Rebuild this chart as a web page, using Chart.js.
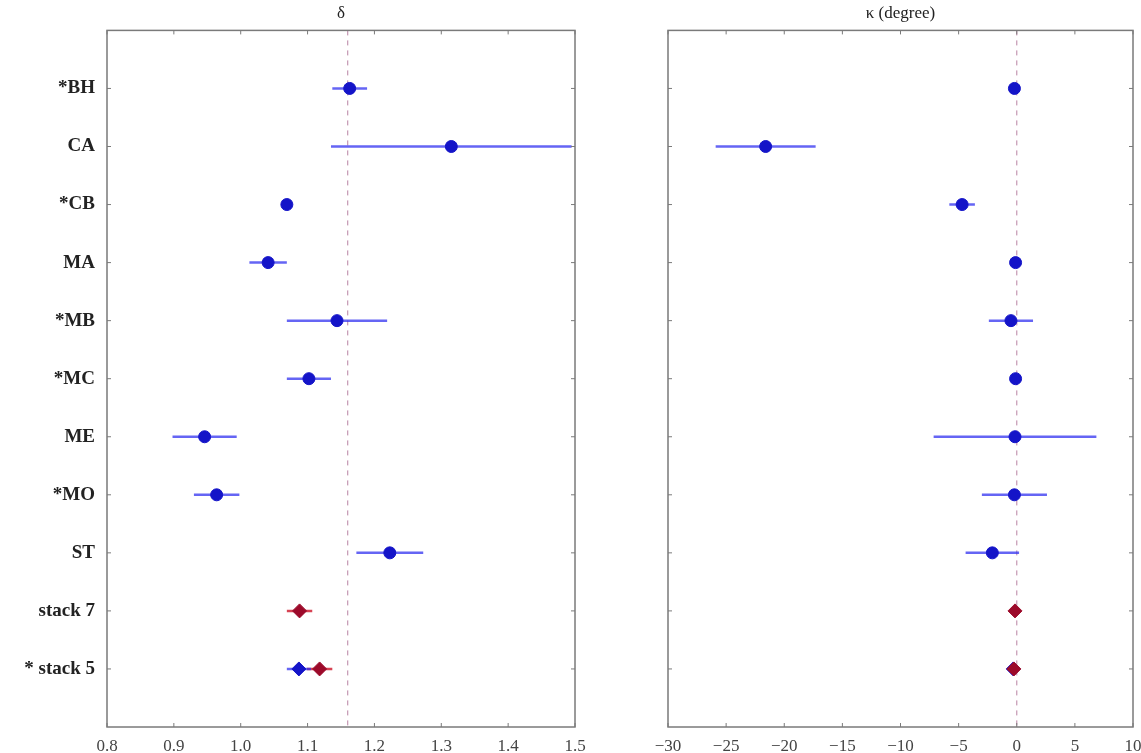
<!DOCTYPE html>
<html>
<head>
<meta charset="utf-8">
<script src="https://cdn.jsdelivr.net/npm/chart.js@4.4.0/dist/chart.umd.min.js"></script>
<style>
  body { margin: 0; background: #fff; }
  #wrap { position: relative; width: 1141px; height: 753px; }
  .pane { position: absolute; top: 0; height: 753px; }
</style>
</head>
<body>
<div id="wrap">
  <div class="pane" style="left:0;width:590px"><canvas id="deltaChart"></canvas></div>
  <div class="pane" style="left:590px;width:551px"><canvas id="kappaChart"></canvas></div>
</div>
<script>
// rows, top to bottom (y = 1 .. 11)
const categories = ['*BH', 'CA', '*CB', 'MA', '*MB', '*MC', 'ME', '*MO', 'ST', 'stack 7', '* stack 5'];

// single samples (rows 1..9), blue circles
const deltaMean = [1.163, 1.315, 1.069, 1.041, 1.144, 1.102, 0.946, 0.964, 1.223];
const deltaErr  = [0.026, 0.180, 0.008, 0.028, 0.075, 0.033, 0.048, 0.034, 0.050];
const kappaMean = [-0.2, -21.6, -4.7, -0.1, -0.5, -0.1, -0.15, -0.2, -2.1];
const kappaErr  = [0.2, 4.3, 1.1, 0.2, 1.9, 0.2, 7.0, 2.8, 2.3];

// stacks (rows 10, 11), diamonds
const stackBlueDelta    = [null, 1.087];
const stackBlueDeltaErr = [null, 0.018];
const stackRedDelta     = [1.088, 1.118];
const stackRedDeltaErr  = [0.019, 0.019];
const stackBlueKappa    = [null, -0.3];
const stackBlueKappaErr = [null, 0.4];
const stackRedKappa     = [-0.15, -0.25];
const stackRedKappaErr  = [0.3, 0.4];

// reference lines and tick ranges
const deltaRef = 1.16;
const kappaRef = 0;
const deltaTicks = [0.8, 1.5, 0.1];
const kappaTicks = [-30, 10, 5];

const BLUE = '#1414c8';
const BLUE_BAR = 'rgba(50, 50, 240, 0.75)';
const RED = '#9c0a2a';
const RED_BAR = 'rgba(205, 20, 40, 0.8)';
const SERIF = '"Liberation Serif", "DejaVu Serif", serif';

// frame box and small inward ticks on all four sides
const framePlugin = {
    id: 'frame',
    afterDraw(chart) {
        const a = chart.chartArea;
        const c = chart.ctx;
        c.save();
        c.strokeStyle = '#7a7a7a';
        c.lineWidth = 1.5;
        c.strokeRect(a.left, a.top, a.right - a.left, a.bottom - a.top);
        c.lineWidth = 1;
        const xs = chart.scales.x;
        xs.ticks.forEach((t, i) => {
            const px = xs.getPixelForTick(i);
            c.beginPath();
            c.moveTo(px, a.bottom); c.lineTo(px, a.bottom - 4);
            c.moveTo(px, a.top); c.lineTo(px, a.top + 4);
            c.stroke();
        });
        const ys = chart.scales.y;
        ys.ticks.forEach((t, i) => {
            if (t.value < 1 || t.value > categories.length) return;
            const py = ys.getPixelForTick(i);
            c.beginPath();
            c.moveTo(a.left, py); c.lineTo(a.left + 4, py);
            c.moveTo(a.right, py); c.lineTo(a.right - 4, py);
            c.stroke();
        });
        c.restore();
    }
};

function errBar(v, e, row, color) {
    return {
        data: [{ x: v - e, y: row }, { x: v + e, y: row }],
        showLine: true,
        borderColor: color,
        borderWidth: 2.5,
        pointRadius: 0,
        pointHoverRadius: 0
    };
}

function buildDatasets(mean, err, blueS, blueSErr, redS, redSErr, ref) {
    const markers = [];
    const bars = [];
    markers.push({
        data: mean.map((v, i) => ({ x: v, y: i + 1 })),
        pointStyle: 'circle',
        pointRadius: 6,
        backgroundColor: BLUE,
        borderColor: BLUE
    });
    mean.forEach((v, i) => bars.push(errBar(v, err[i], i + 1, BLUE_BAR)));

    const stackBlue = [];
    const stackRed = [];
    blueS.forEach((v, i) => {
        if (v === null) return;
        stackBlue.push({ x: v, y: mean.length + 1 + i });
        bars.push(errBar(v, blueSErr[i], mean.length + 1 + i, BLUE_BAR));
    });
    redS.forEach((v, i) => {
        if (v === null) return;
        stackRed.push({ x: v, y: mean.length + 1 + i });
        bars.push(errBar(v, redSErr[i], mean.length + 1 + i, RED_BAR));
    });
    markers.push({
        data: stackRed,
        pointStyle: 'rectRot',
        pointRadius: 7,
        backgroundColor: RED,
        borderColor: RED
    });
    markers.push({
        data: stackBlue,
        pointStyle: 'rectRot',
        pointRadius: 7,
        backgroundColor: BLUE,
        borderColor: BLUE
    });

    const refLine = {
        data: [{ x: ref, y: 0 }, { x: ref, y: categories.length + 1 }],
        showLine: true,
        borderColor: 'rgba(190, 140, 170, 0.9)',
        borderWidth: 1.2,
        borderDash: [5, 5],
        pointRadius: 0
    };
    return markers.concat(bars, [refLine]);
}

function makeChart(id, title, datasets, ticks, yWidth, showLabels, padRight, fmt) {
    return new Chart(document.getElementById(id), {
        type: 'scatter',
        data: { datasets: datasets },
        options: {
            responsive: true,
            maintainAspectRatio: false,
            animation: false,
            layout: { padding: { left: 0, right: padRight, top: 0, bottom: 0 } },
            plugins: {
                legend: { display: false },
                tooltip: { enabled: false },
                title: {
                    display: true,
                    text: title,
                    fullSize: false,
                    color: '#222',
                    font: { family: SERIF, size: 17, weight: 'normal' },
                    padding: { top: 3, bottom: 7 }
                }
            },
            scales: {
                x: {
                    type: 'linear',
                    min: ticks[0],
                    max: ticks[1],
                    grid: { display: false },
                    border: { display: false },
                    afterFit(s) { s.height = 26; s.paddingLeft = 0; s.paddingRight = 0; },
                    ticks: {
                        stepSize: ticks[2],
                        autoSkip: false,
                        maxRotation: 0,
                        padding: 1,
                        color: '#444',
                        font: { family: SERIF, size: 17 },
                        callback: fmt
                    }
                },
                y: {
                    type: 'linear',
                    reverse: true,
                    min: 0,
                    max: categories.length + 1,
                    grid: { display: false },
                    border: { display: false },
                    afterFit(s) { s.width = yWidth; },
                    ticks: {
                        stepSize: 1,
                        autoSkip: false,
                        padding: 4,
                        color: '#222',
                        font: { family: SERIF, size: 19, weight: 'bold' },
                        callback: v => (showLabels && v >= 1 && v <= categories.length) ? categories[v - 1] : ''
                    }
                }
            }
        },
        plugins: [framePlugin]
    });
}

document.addEventListener('DOMContentLoaded', function () {
    makeChart('deltaChart', 'δ',
        buildDatasets(deltaMean, deltaErr, stackBlueDelta, stackBlueDeltaErr, stackRedDelta, stackRedDeltaErr, deltaRef),
        deltaTicks, 107, true, 15, v => Number(v).toFixed(1));

    makeChart('kappaChart', 'κ (degree)',
        buildDatasets(kappaMean, kappaErr, stackBlueKappa, stackBlueKappaErr, stackRedKappa, stackRedKappaErr, kappaRef),
        kappaTicks, 78, false, 7, v => v < 0 ? '\u2212' + Math.abs(v) : String(v));
});
</script>
</body>
</html>
